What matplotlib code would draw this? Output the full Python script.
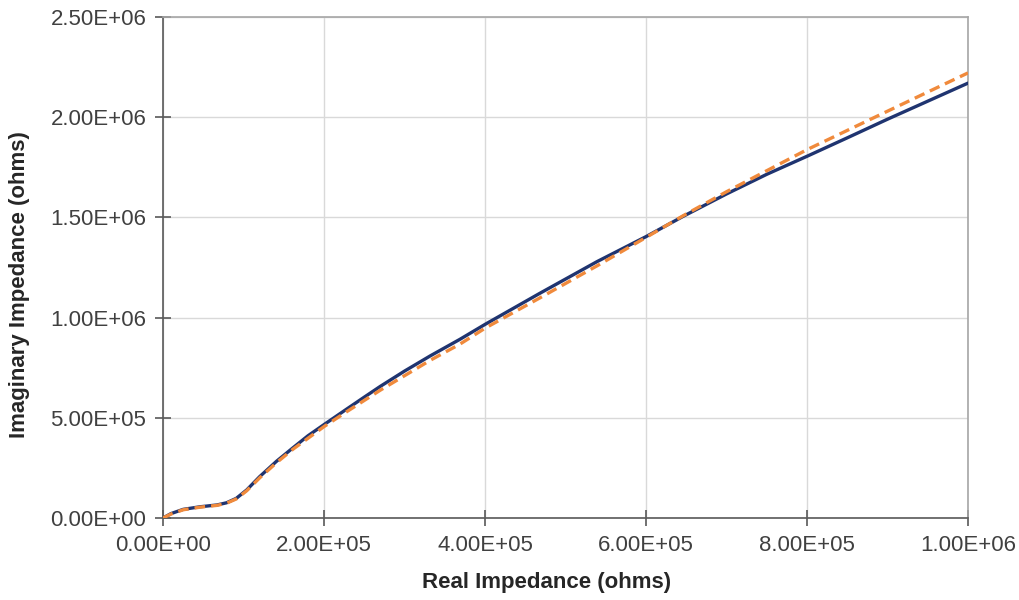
import matplotlib
matplotlib.use("Agg")
import matplotlib.pyplot as plt
from matplotlib.ticker import FuncFormatter

# Measured (blue, solid) series
meas_x = [0, 10e3, 25e3, 46e3, 67e3, 79e3, 91e3, 104e3, 120e3, 141e3, 162e3, 180e3,
          200e3, 228e3, 250e3, 270e3, 300e3, 332e3, 369e3, 400e3, 468e3, 539e3,
          600e3, 646e3, 700e3, 750e3, 800e3, 850e3, 900e3, 950e3, 1000e3]
meas_y = [0, 22e3, 43e3, 56e3, 65e3, 76e3, 98e3, 140e3, 206e3, 283e3, 352e3, 410e3,
          466e3, 543e3, 603e3, 657e3, 733e3, 809e3, 892e3, 966e3, 1121e3, 1279e3,
          1404e3, 1505e3, 1617e3, 1715e3, 1805e3, 1897e3, 1990e3, 2080e3, 2170e3]

# Model (orange, dashed) series
model_x = [0, 10e3, 25e3, 46e3, 67e3, 79e3, 91e3, 104e3, 120e3, 141e3, 162e3, 200e3,
           228e3, 270e3, 300e3, 332e3, 369e3, 400e3, 468e3, 539e3, 600e3, 646e3,
           700e3, 800e3, 900e3, 1000e3]
model_y = [0, 20e3, 41e3, 54e3, 63e3, 74e3, 95e3, 136e3, 200e3, 276e3, 345e3, 456e3,
           530e3, 638e3, 710e3, 787e3, 868e3, 947e3, 1098e3, 1258e3, 1400e3, 1508e3,
           1628e3, 1838e3, 2030e3, 2221e3]

x_ticks = [0, 2e5, 4e5, 6e5, 8e5, 1e6]
y_ticks = [0, 5e5, 1e6, 1.5e6, 2e6, 2.5e6]

plt.rcParams['font.family'] = ['Liberation Sans', 'DejaVu Sans']

fig = plt.figure(figsize=(10.2, 6), dpi=100)
ax = fig.add_axes([163/1020, 82/600, 805/1020, 501/600])

ax.plot(meas_x, meas_y, color='#1f3470', lw=2.4, solid_capstyle='round', zorder=3)
ax.plot(model_x, model_y, color='#f08a3c', lw=2.4, linestyle=(0, (3.2, 1.8)), zorder=4)

ax.set_xlim(0, 1e6)
ax.set_ylim(0, 2.5e6)
ax.set_xticks(x_ticks)
ax.set_yticks(y_ticks)

fmt = FuncFormatter(lambda v, p: ("%.2E" % v))
ax.xaxis.set_major_formatter(fmt)
ax.yaxis.set_major_formatter(fmt)

ax.grid(True, color='#d9d9d9', lw=1.0)
ax.set_axisbelow(True)
for s in ['left', 'bottom']:
    ax.spines[s].set_color('#595959')
    ax.spines[s].set_linewidth(1.2)
for s in ['top', 'right']:
    ax.spines[s].set_color('#a6a6a6')
    ax.spines[s].set_linewidth(1.2)

ax.tick_params(axis='both', direction='inout', length=12, width=1.2, color='#595959',
               labelsize=16, labelcolor='#404040', pad=6)

ax.set_xlabel('Real Impedance (ohms)', fontsize=16, fontweight='bold', color='#262626')
ax.set_ylabel('Imaginary Impedance (ohms)', fontsize=16, fontweight='bold', color='#262626')
ax.xaxis.set_label_coords(0.477, -0.108)
ax.yaxis.set_label_coords(-0.165, 0.465)

fig.savefig('out.png', dpi=100, facecolor='white')
